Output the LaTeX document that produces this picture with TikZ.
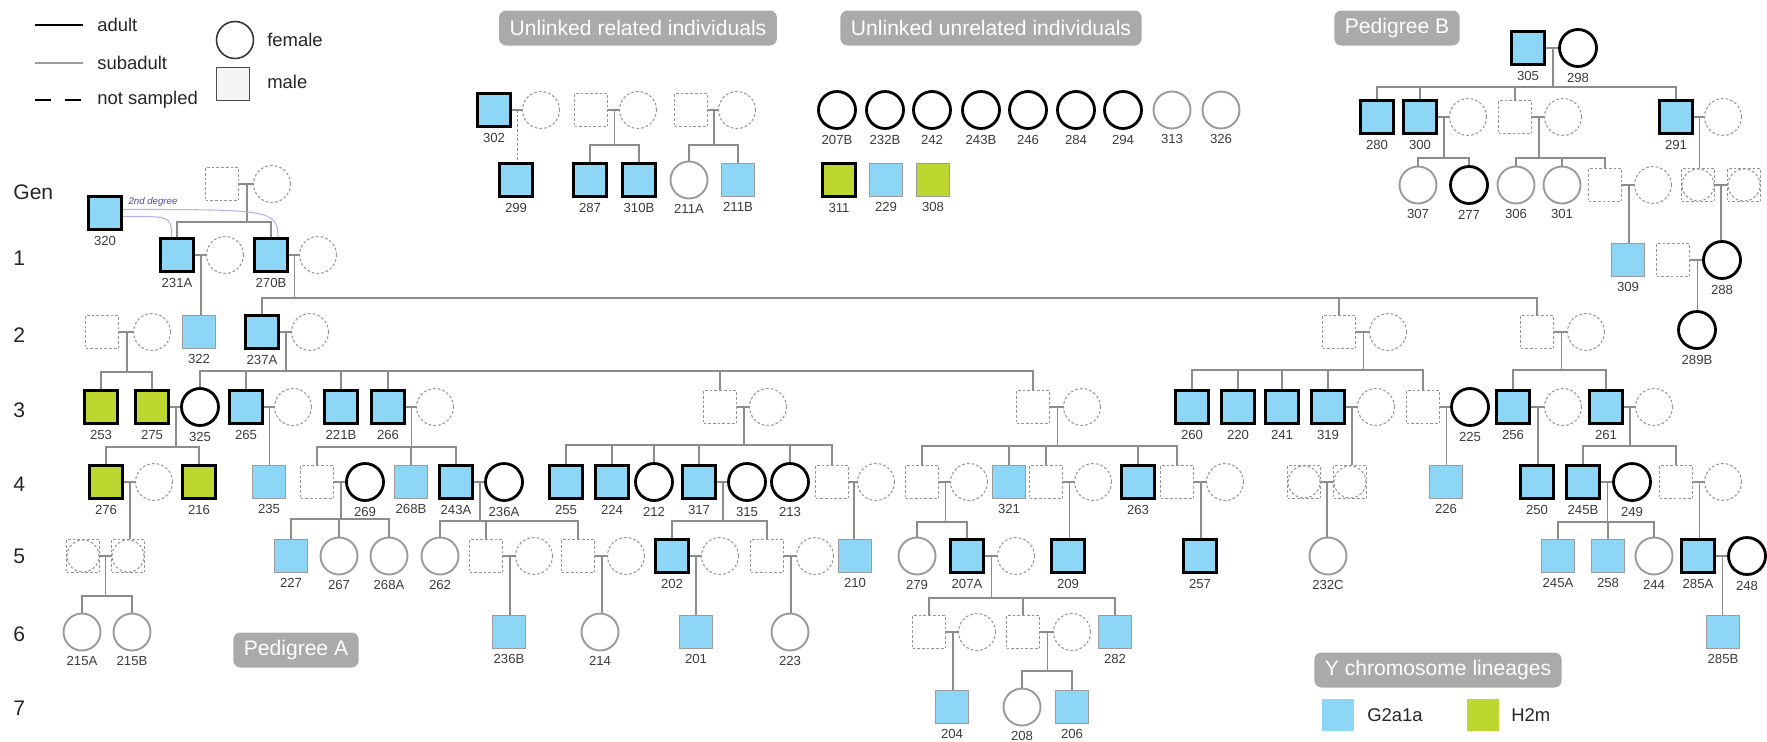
\documentclass[tikz,border=0pt]{standalone}
\usepackage{fontspec}
\setmainfont{Liberation Sans}
\usetikzlibrary{calc}
\definecolor{gblue}{RGB}{142,214,245}
\definecolor{hgreen}{RGB}{189,214,48}
\definecolor{linegray}{RGB}{140,140,140}
\definecolor{subgray}{RGB}{155,155,155}
\definecolor{nsgray}{RGB}{150,150,150}
\definecolor{boxgray}{RGB}{170,170,170}
\definecolor{labgray}{RGB}{60,60,60}
\definecolor{relline}{RGB}{185,175,232}
\definecolor{reltext}{RGB}{95,60,165}
\tikzstyle{male} = [rectangle, minimum size=0.66cm, inner sep=0pt]
\tikzstyle{female} = [circle, minimum size=0.74cm, inner sep=0pt]
\tikzstyle{adult} = [draw=black, line width=1.6pt]
\tikzstyle{subad} = [draw=subgray, line width=1.1pt]
\tikzstyle{nosamp} = [draw=nsgray, line width=0.6pt, dash pattern=on 1.5pt off 1.2pt]
\tikzstyle{unk} = [rectangle, minimum size=0.66cm, inner sep=0pt, nosamp, path picture={\draw[nsgray, line width=0.6pt, dash pattern=on 1.5pt off 1.2pt] (path picture bounding box.center) circle (0.32cm);}]
\tikzstyle{g2a} = [fill=gblue]
\tikzstyle{h2m} = [fill=hgreen]
\tikzstyle{link} = [draw=linegray, line width=0.8pt]
\tikzstyle{tag} = [rectangle, rounded corners=4pt, fill=boxgray, text=white, font=\fontsize{12}{14}\selectfont, minimum height=0.7cm, inner xsep=6pt]
\tikzstyle{gen} = [anchor=west, inner sep=0pt, font=\fontsize{12}{14}\selectfont, text=black!85]
\tikzstyle{legend} = [anchor=west, inner sep=0pt, font=\fontsize{10.5}{12}\selectfont, text=black!85]
\tikzset{every label/.style={font=\fontsize{7.5}{9}\selectfont, text=labgray, inner sep=0.6pt}}
% couple line and the point the descent starts from
\newcommand{\mates}[2]{\draw[link] (#1) -- (#2); \coordinate (j#1) at ($(#1)!0.5!(#2)$);}
\newcommand{\onechild}[2]{\draw[link] (#1) -- (#1 |- #2.north);}
\newcommand{\kids}[3]{\draw[link] (#1) -- (#1 |- 0,#2); \foreach \k in {#3} {\draw[link] (\k.north) |- (#1 |- 0,#2);}}
\begin{document}
\begin{tikzpicture}[x=0.02cm, y=-0.02cm, label distance=2pt]
\useasboundingbox (0,0) rectangle (1767,741);

% legend
\draw[black, line width=1.6pt] (35,25) -- (83,25);
\draw[subgray, line width=0.8pt] (35,63) -- (83,63);
\draw[black, line width=1.6pt, dash pattern=on 9pt off 8pt] (35,100) -- (83,100);
\node[legend] (tAdult) at (97,25) {adult};
\node[legend] (tSub) at (97,63) {subadult};
\node[legend] (tNot) at (97,100) {not sampled};
\node[female, draw=black!80, line width=0.9pt] (legF) at (235,40) {};
\node[legend] (tFemale) at (267,40) {female};
\node[male, draw=black!70, line width=0.9pt, fill=black!4] (legM) at (233,84) {};
\node[legend] (tMale) at (267,82) {male};

% titles
\node[tag] (tagRel) at (638,28) {Unlinked related individuals};
\node[tag] (tagUnrel) at (991,28) {Unlinked unrelated individuals};
\node[tag] (tagB) at (1397,28) {Pedigree B};
\node[tag] (tagA) at (296,650) {Pedigree A};
\node[tag] (tagY) at (1438,670) {Y chromosome lineages};

% generations
\node[gen] (gen0) at (13,192) {Gen};
\node[gen] (gen1) at (13,258) {1};
\node[gen] (gen2) at (13,335) {2};
\node[gen] (gen3) at (13,410) {3};
\node[gen] (gen4) at (13,484) {4};
\node[gen] (gen5) at (13,556) {5};
\node[gen] (gen6) at (13,634) {6};
\node[gen] (gen7) at (13,708) {7};

% Y lineages
\node[male, g2a, minimum size=0.64cm] (keyG) at (1338,715) {};
\node[legend] (tG) at (1367,715) {G2a1a};
\node[male, h2m, minimum size=0.64cm] (keyH) at (1483,715) {};
\node[legend] (tH) at (1511,715) {H2m};

% unlinked related
\node[male,adult,g2a,label=below:302] (i302) at (494,110) {};
\node[female,nosamp] (p302) at (541,110) {};
\node[male,adult,g2a,label=below:299] (i299) at (516,180) {};
\node[male,nosamp] (f287) at (591,110) {};
\node[female,nosamp] (m287) at (638,110) {};
\node[male,adult,g2a,label=below:287] (i287) at (590,180) {};
\node[male,adult,g2a,label=below:310B] (i310B) at (639,180) {};
\node[male,nosamp] (f211) at (691,110) {};
\node[female,nosamp] (m211) at (737,110) {};
\node[female,subad,label=below:211A] (i211A) at (689,180) {};
\node[male,subad,g2a,label=below:211B] (i211B) at (738,180) {};

% unlinked unrelated
\node[female,adult,label=below:207B] (i207B) at (837,110) {};
\node[female,adult,label=below:232B] (i232B) at (885,110) {};
\node[female,adult,label=below:242] (i242) at (932,110) {};
\node[female,adult,label=below:243B] (i243B) at (981,110) {};
\node[female,adult,label=below:246] (i246) at (1028,110) {};
\node[female,adult,label=below:284] (i284) at (1076,110) {};
\node[female,adult,label=below:294] (i294) at (1123,110) {};
\node[female,subad,label=below:313] (i313) at (1172,110) {};
\node[female,subad,label=below:326] (i326) at (1221,110) {};
\node[male,adult,h2m,label=below:311] (i311) at (839,180) {};
\node[male,subad,g2a,label=below:229] (i229) at (886,180) {};
\node[male,subad,h2m,label=below:308] (i308) at (933,180) {};

% pedigree B
\node[male,adult,g2a,label=below:305] (i305) at (1528,48) {};
\node[female,adult,label=below:298] (i298) at (1578,48) {};
\node[male,adult,g2a,label=below:280] (i280) at (1377,117) {};
\node[male,adult,g2a,label=below:300] (i300) at (1420,117) {};
\node[female,nosamp] (p300) at (1468,117) {};
\node[male,nosamp] (fB1) at (1515,117) {};
\node[female,nosamp] (mB1) at (1563,117) {};
\node[male,adult,g2a,label=below:291] (i291) at (1676,117) {};
\node[female,nosamp] (p291) at (1723,117) {};
\node[female,subad,label=below:307] (i307) at (1418,185) {};
\node[female,adult,label=below:277] (i277) at (1469,185) {};
\node[female,subad,label=below:306] (i306) at (1516,185) {};
\node[female,subad,label=below:301] (i301) at (1562,185) {};
\node[male,nosamp] (fB2) at (1605,185) {};
\node[female,nosamp] (mB2) at (1653,185) {};
\node[unk] (uB1) at (1698,185) {};
\node[unk] (uB2) at (1744,185) {};
\node[male,subad,g2a,label=below:309] (i309) at (1628,260) {};
\node[male,nosamp] (fB3) at (1673,260) {};
\node[female,adult,label=below:288] (i288) at (1722,260) {};
\node[female,adult,label=below:289B] (i289B) at (1697,330) {};

% pedigree A, gen 0 and 1
\node[male,nosamp] (f231) at (222,184) {};
\node[female,nosamp] (m231) at (272,184) {};
\node[male,adult,g2a,label=below:320] (i320) at (105,213) {};
\node[male,adult,g2a,label=below:231A] (i231A) at (177,255) {};
\node[female,nosamp] (p231A) at (225,255) {};
\node[male,adult,g2a,label=below:270B] (i270B) at (271,255) {};
\node[female,nosamp] (p270B) at (318,255) {};

% gen 2
\node[male,nosamp] (f253) at (102,332) {};
\node[female,nosamp] (m253) at (152,332) {};
\node[male,subad,g2a,label=below:322] (i322) at (199,332) {};
\node[male,adult,g2a,label=below:237A] (i237A) at (262,332) {};
\node[female,nosamp] (p237A) at (310,332) {};
\node[male,nosamp] (f260) at (1339,332) {};
\node[female,nosamp] (m260) at (1388,332) {};
\node[male,nosamp] (f256) at (1537,332) {};
\node[female,nosamp] (m256) at (1586,332) {};

% gen 3
\node[male,adult,h2m,label=below:253] (i253) at (101,407) {};
\node[male,adult,h2m,label=below:275] (i275) at (152,407) {};
\node[female,adult,label=below:325] (i325) at (200,407) {};
\node[male,adult,g2a,label=below:265] (i265) at (246,407) {};
\node[female,nosamp] (p265) at (293,407) {};
\node[male,adult,g2a,label=below:221B] (i221B) at (341,407) {};
\node[male,adult,g2a,label=below:266] (i266) at (388,407) {};
\node[female,nosamp] (p266) at (435,407) {};
\node[male,nosamp] (f255) at (720,407) {};
\node[female,nosamp] (m255) at (768,407) {};
\node[male,nosamp] (f321) at (1033,407) {};
\node[female,nosamp] (m321) at (1082,407) {};
\node[male,adult,g2a,label=below:260] (i260) at (1192,407) {};
\node[male,adult,g2a,label=below:220] (i220) at (1238,407) {};
\node[male,adult,g2a,label=below:241] (i241) at (1282,407) {};
\node[male,adult,g2a,label=below:319] (i319) at (1328,407) {};
\node[female,nosamp] (p319) at (1376,407) {};
\node[male,nosamp] (f226) at (1423,407) {};
\node[female,adult,label=below:225] (i225) at (1470,407) {};
\node[male,adult,g2a,label=below:256] (i256) at (1513,407) {};
\node[female,nosamp] (p256) at (1563,407) {};
\node[male,adult,g2a,label=below:261] (i261) at (1606,407) {};
\node[female,nosamp] (p261) at (1654,407) {};

% gen 4
\node[male,adult,h2m,label=below:276] (i276) at (106,482) {};
\node[female,nosamp] (p276) at (154,482) {};
\node[male,adult,h2m,label=below:216] (i216) at (199,482) {};
\node[male,subad,g2a,label=below:235] (i235) at (269,482) {};
\node[male,nosamp] (f227) at (317,482) {};
\node[female,adult,label=below:269] (i269) at (365,482) {};
\node[male,subad,g2a,label=below:268B] (i268B) at (411,482) {};
\node[male,adult,g2a,label=below:243A] (i243A) at (456,482) {};
\node[female,adult,label=below:236A] (i236A) at (504,482) {};
\node[male,adult,g2a,label=below:255] (i255) at (566,482) {};
\node[male,adult,g2a,label=below:224] (i224) at (612,482) {};
\node[female,adult,label=below:212] (i212) at (654,482) {};
\node[male,adult,g2a,label=below:317] (i317) at (699,482) {};
\node[female,adult,label=below:315] (i315) at (747,482) {};
\node[female,adult,label=below:213] (i213) at (790,482) {};
\node[male,nosamp] (f210) at (832,482) {};
\node[female,nosamp] (m210) at (876,482) {};
\node[male,nosamp] (f279) at (922,482) {};
\node[female,nosamp] (m279) at (969,482) {};
\node[male,subad,g2a,label=below:321] (i321) at (1009,482) {};
\node[male,nosamp] (f209) at (1046,482) {};
\node[female,nosamp] (m209) at (1093,482) {};
\node[male,adult,g2a,label=below:263] (i263) at (1138,482) {};
\node[male,nosamp] (f257) at (1177,482) {};
\node[female,nosamp] (m257) at (1225,482) {};
\node[unk] (u232a) at (1304,482) {};
\node[unk] (u232b) at (1350,482) {};
\node[male,subad,g2a,label=below:226] (i226) at (1446,482) {};
\node[male,adult,g2a,label=below:250] (i250) at (1537,482) {};
\node[male,adult,g2a,label=below:245B] (i245B) at (1583,482) {};
\node[female,adult,label=below:249] (i249) at (1632,482) {};
\node[male,nosamp] (f285A) at (1676,482) {};
\node[female,nosamp] (m285A) at (1723,482) {};

% gen 5
\node[unk] (u215a) at (83,556) {};
\node[unk] (u215b) at (128,556) {};
\node[male,subad,g2a,label=below:227] (i227) at (291,556) {};
\node[female,subad,label=below:267] (i267) at (339,556) {};
\node[female,subad,label=below:268A] (i268A) at (389,556) {};
\node[female,subad,label=below:262] (i262) at (440,556) {};
\node[male,nosamp] (f236B) at (486,556) {};
\node[female,nosamp] (m236B) at (534,556) {};
\node[male,nosamp] (f214) at (578,556) {};
\node[female,nosamp] (m214) at (626,556) {};
\node[male,adult,g2a,label=below:202] (i202) at (672,556) {};
\node[female,nosamp] (p202) at (720,556) {};
\node[male,nosamp] (f223) at (767,556) {};
\node[female,nosamp] (m223) at (815,556) {};
\node[male,subad,g2a,label=below:210] (i210) at (855,556) {};
\node[female,subad,label=below:279] (i279) at (917,556) {};
\node[male,adult,g2a,label=below:207A] (i207A) at (967,556) {};
\node[female,nosamp] (p207A) at (1016,556) {};
\node[male,adult,g2a,label=below:209] (i209) at (1068,556) {};
\node[male,adult,g2a,label=below:257] (i257) at (1200,556) {};
\node[female,subad,label=below:232C] (i232C) at (1328,556) {};
\node[male,subad,g2a,label=below:245A] (i245A) at (1558,556) {};
\node[male,subad,g2a,label=below:258] (i258) at (1608,556) {};
\node[female,subad,label=below:244] (i244) at (1654,556) {};
\node[male,adult,g2a,label=below:285A] (i285A) at (1698,556) {};
\node[female,adult,label=below:248] (i248) at (1747,556) {};

% gen 6
\node[female,subad,label=below:215A] (i215A) at (82,632) {};
\node[female,subad,label=below:215B] (i215B) at (132,632) {};
\node[male,subad,g2a,label=below:236B] (i236B) at (509,632) {};
\node[female,subad,label=below:214] (i214) at (600,632) {};
\node[male,subad,g2a,label=below:201] (i201) at (696,632) {};
\node[female,subad,label=below:223] (i223) at (790,632) {};
\node[male,nosamp] (f204) at (929,632) {};
\node[female,nosamp] (m204) at (977,632) {};
\node[male,nosamp] (f208) at (1023,632) {};
\node[female,nosamp] (m208) at (1072,632) {};
\node[male,subad,g2a,label=below:282] (i282) at (1115,632) {};
\node[male,subad,g2a,label=below:285B] (i285B) at (1723,632) {};

% gen 7
\node[male,subad,g2a,label=below:204] (i204) at (952,707) {};
\node[female,subad,label=below:208] (i208) at (1022,707) {};
\node[male,subad,g2a,label=below:206] (i206) at (1072,707) {};

% lines, unlinked related
\mates{i302}{p302}
\draw[link, dash pattern=on 1.5pt off 1.2pt] (ji302) -- (ji302 |- i299.north);
\mates{f287}{m287} \kids{jf287}{145}{i287,i310B}
\mates{f211}{m211} \kids{jf211}{145}{i211A,i211B}

% lines, pedigree B
\mates{i305}{i298} \kids{ji305}{87}{i280,i300,fB1,i291}
\mates{i300}{p300} \kids{ji300}{158}{i307,i277}
\mates{fB1}{mB1} \kids{jfB1}{158}{i306,i301,fB2}
\mates{i291}{p291} \onechild{ji291}{uB1}
\mates{fB2}{mB2} \onechild{jfB2}{i309}
\mates{uB1}{uB2} \onechild{juB1}{i288}
\mates{fB3}{i288} \onechild{jfB3}{i289B}

% lines, pedigree A
\mates{f231}{m231} \kids{jf231}{222}{i231A,i270B}
\mates{i231A}{p231A} \onechild{ji231A}{i322}
\mates{i270B}{p270B} \kids{ji270B}{298}{i237A,f260,f256}
\mates{f253}{m253} \kids{jf253}{372}{i253,i275}
\mates{i237A}{p237A} \kids{ji237A}{371}{i325,i265,i221B,i266,f255,f321}
\mates{f260}{m260} \kids{jf260}{370}{i260,i220,i241,i319,f226}
\mates{f256}{m256} \kids{jf256}{370}{i256,i261}
\mates{i275}{i325} \kids{ji275}{447}{i276,i216}
\mates{i265}{p265} \onechild{ji265}{i235}
\mates{i266}{p266} \kids{ji266}{447}{f227,i268B,i243A}
\mates{f255}{m255} \kids{jf255}{445}{i255,i224,i212,i317,i213,f210}
\mates{f321}{m321} \kids{jf321}{446}{f279,i321,f209,i263,f257}
\mates{i319}{p319} \onechild{ji319}{u232b}
\mates{f226}{i225} \onechild{jf226}{i226}
\mates{i256}{p256} \onechild{ji256}{i250}
\mates{i261}{p261} \kids{ji261}{446}{i245B,f285A}
\mates{i276}{p276} \onechild{ji276}{u215b}
\mates{f227}{i269} \kids{jf227}{519}{i227,i267,i268A}
\mates{i243A}{i236A} \kids{ji243A}{521}{i262,f236B,f214}
\mates{i317}{i315} \kids{ji317}{521}{i202,f223}
\mates{f210}{m210} \onechild{jf210}{i210}
\mates{f279}{m279} \kids{jf279}{522}{i279,i207A}
\mates{f209}{m209} \onechild{jf209}{i209}
\mates{f257}{m257} \onechild{jf257}{i257}
\mates{u232a}{u232b} \onechild{ju232a}{i232C}
\mates{i245B}{i249} \kids{ji245B}{522}{i245A,i258,i244}
\mates{f285A}{m285A} \onechild{jf285A}{i285A}
\mates{u215a}{u215b} \kids{ju215a}{596}{i215A,i215B}
\mates{f236B}{m236B} \onechild{jf236B}{i236B}
\mates{f214}{m214} \onechild{jf214}{i214}
\mates{i202}{p202} \onechild{ji202}{i201}
\mates{f223}{m223} \onechild{jf223}{i223}
\mates{i207A}{p207A} \kids{ji207A}{598}{f204,f208,i282}
\mates{i285A}{i248} \onechild{ji285A}{i285B}
\mates{f204}{m204} \onechild{jf204}{i204}
\mates{f208}{m208} \kids{jf208}{671}{i208,i206}

% second degree link
\draw[relline, line width=0.6pt] ([yshift=-2pt]i320.east) to[out=0, in=90, out distance=0.9cm, in distance=0.45cm] ([xshift=-3pt]i231A.north);
\draw[relline, line width=0.6pt] ([yshift=2pt]i320.east) to[out=0, in=90, out distance=2.9cm, in distance=0.55cm] ([xshift=4pt]i270B.north);
\node[font=\itshape\fontsize{5.5}{6}\selectfont, text=reltext, inner sep=0pt] (deg2) at (153,202) {2nd degree};

\end{tikzpicture}
\end{document}
